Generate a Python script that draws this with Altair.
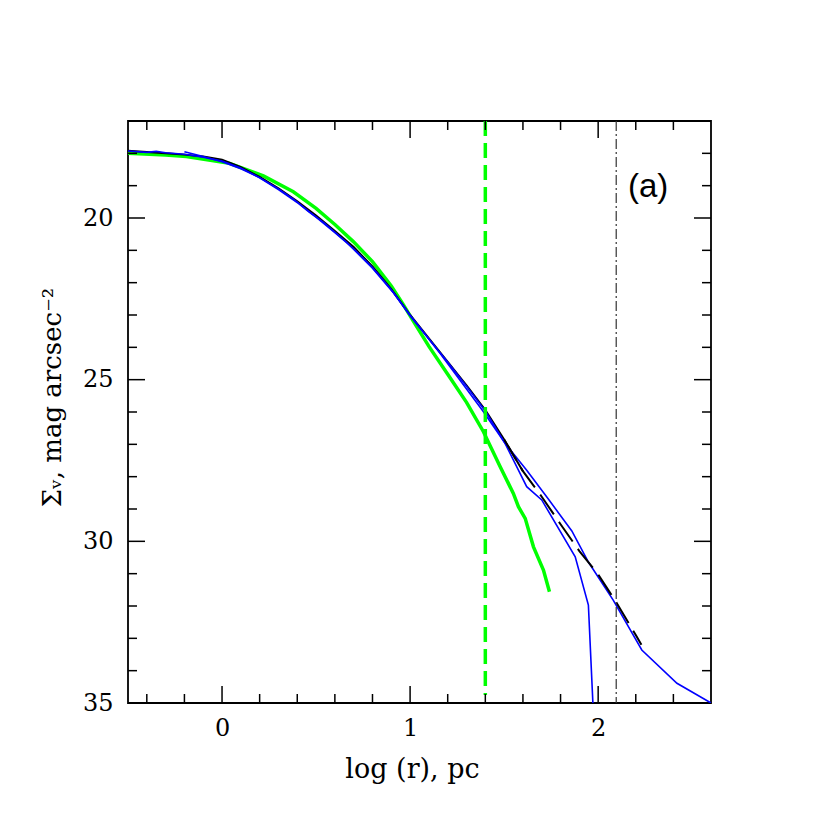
import altair as alt
import pandas as pd

W, H = 583, 582

# ---- data ----
black_x = [-0.5, -0.4, -0.3, -0.2, -0.1, 0.0, 0.1, 0.2, 0.3, 0.4, 0.5, 0.6, 0.7,
           0.8, 0.9, 1.0, 1.1, 1.2, 1.3, 1.4, 1.5, 1.6]
black_y = [17.92, 17.96, 18.0, 18.04, 18.1, 18.2, 18.43, 18.73, 19.08, 19.48, 19.92,
           20.4, 20.9, 21.5, 22.2, 23.0, 23.72, 24.45, 25.18, 25.94, 26.85, 27.83]

model_x = [1.5, 1.6, 1.7, 1.8, 1.9, 2.0, 2.1, 2.2, 2.23]
model_y = [26.85, 27.83, 28.62, 29.47, 30.3, 31.02, 31.92, 32.9, 33.2]

green_x = [-0.5, -0.3, -0.19, 0.04, 0.22, 0.379, 0.5, 0.6, 0.698, 0.8, 0.9, 0.964,
           1.018, 1.1, 1.2, 1.3, 1.39, 1.479, 1.549, 1.576, 1.612, 1.656, 1.709, 1.741]
green_y = [18.0, 18.05, 18.1, 18.31, 18.7, 19.19, 19.7, 20.2, 20.73, 21.35, 22.1,
           22.68, 23.2, 23.97, 24.83, 25.7, 26.61, 27.69, 28.52, 28.93, 29.29, 30.17,
           30.89, 31.56]

blueA_x = [-0.2, -0.1, 0.0, 0.1, 0.2, 0.3, 0.38, 0.46, 0.543, 0.662, 0.8, 0.91, 1.0,
           1.16, 1.39, 1.505, 1.62, 1.736, 1.86, 1.948, 2.08, 2.232, 2.419, 2.6]
blueA_y = [17.95, 18.1, 18.26, 18.48, 18.75, 19.1, 19.42, 19.8, 20.15, 20.75, 21.55,
           22.3, 23.0, 24.19, 25.99, 26.97, 27.8, 28.7, 29.68, 30.64, 31.82,
           33.36, 34.39, 35.0]

blueB_x = [-0.5, -0.4, -0.35, -0.3, -0.2, -0.1, 0.0, 0.1, 0.2, 0.3, 0.4, 0.5, 0.6,
           0.7, 0.8, 0.9, 1.0, 1.1, 1.2, 1.3, 1.4, 1.505, 1.62, 1.70, 1.878, 1.948,
           1.972]
blueB_y = [17.93, 17.97, 17.94, 17.98, 18.03, 18.12, 18.24, 18.45, 18.76, 19.12,
           19.52, 19.97, 20.45, 20.95, 21.53, 22.22, 23.02, 23.74, 24.45, 25.2, 25.97,
           26.97, 28.31, 28.72, 30.48, 31.97, 35.0]

vline_green = {"x": [1.4], "y": [17.0], "y2": [34.75]}
vline_dashdot = {"x": [2.096], "y": [17.0], "y2": [35.0]}

x_major = [0, 1, 2]
x_minor = [-0.4, -0.2, 0.2, 0.4, 0.6, 0.8, 1.2, 1.4, 1.6, 1.8, 2.2, 2.4]
y_major = [20, 25, 30]
y_minor = [18, 19, 21, 22, 23, 24, 26, 27, 28, 29, 31, 32, 33, 34]

x_labels = [0, 1, 2]
y_labels = [20, 25, 30, 35]

panel_label = {"x": [2.266], "y": [19.04], "t": ["(a)"]}

XDOM = [-0.5, 2.6]
YDOM = [17, 35]

xs = alt.Scale(domain=XDOM, nice=False, zero=False)
ys = alt.Scale(domain=YDOM, nice=False, zero=False, reverse=True)

FONT = "DejaVu Serif"

xaxis = alt.Axis(values=x_labels, ticks=False, domain=False, grid=False,
                 labelFont=FONT, labelFontSize=24, labelPadding=13,
                 labelColor="black", labelFlush=False,
                 title="log (r), pc", titleFont=FONT, titleFontSize=27,
                 titleFontWeight="normal", titleColor="black",
                 titleX=284, titleY=66, titleBaseline="middle", titleAlign="center")
yaxis = alt.Axis(values=y_labels, ticks=False, domain=False, grid=False,
                 labelFont=FONT, labelFontSize=24, labelPadding=15,
                 labelColor="black", labelFlush=False,
                 title="Σᵥ, mag arcsec⁻²", titleFont=FONT, titleFontSize=26,
                 titleFontWeight="normal", titleColor="black",
                 titleX=-76, titleY=276, titleBaseline="middle", titleAlign="center",
                 titleAngle=270)

X = alt.X("x:Q", scale=xs, axis=xaxis)
Y = alt.Y("y:Q", scale=ys, axis=yaxis)


def line(xv, yv, **kw):
    df = pd.DataFrame({"x": xv, "y": yv, "i": range(len(xv))})
    return alt.Chart(df).mark_line(clip=True, **kw).encode(x=X, y=Y, order="i:Q")


green = line(green_x, green_y, color="#00ff00", strokeWidth=3.5)
black = line(black_x, black_y, color="black", strokeWidth=2)
model = line(model_x, model_y, color="black", strokeWidth=2, strokeDash=[24, 9])
blueA = line(blueA_x, blueA_y, color="#0000ff", strokeWidth=1.6)
blueB = line(blueB_x, blueB_y, color="#0000ff", strokeWidth=1.6)

gv = alt.Chart(pd.DataFrame(vline_green)).mark_rule(
    color="#00ff00", strokeWidth=3.5, strokeDash=[15, 7]).encode(x=X, y=Y, y2="y2:Q")
dd = alt.Chart(pd.DataFrame(vline_dashdot)).mark_rule(
    color="#333333", strokeWidth=1.2, strokeDash=[10, 3, 2, 3]).encode(x=X, y=Y, y2="y2:Q")

TK = dict(color="black", strokeWidth=1.5)
MAJ, MIN = 17, 9


def xticks(vals, length):
    df = pd.DataFrame({"x": vals})
    bot = alt.Chart(df).mark_rule(**TK).encode(
        x=X, y=alt.value(H), y2=alt.value(H - length))
    top = alt.Chart(df).mark_rule(**TK).encode(
        x=X, y=alt.value(0), y2=alt.value(length))
    return [bot, top]


def yticks(vals, length):
    df = pd.DataFrame({"y": vals})
    left = alt.Chart(df).mark_rule(**TK).encode(
        y=Y, x=alt.value(0), x2=alt.value(length))
    right = alt.Chart(df).mark_rule(**TK).encode(
        y=Y, x=alt.value(W), x2=alt.value(W - length))
    return [left, right]


ticks = xticks(x_major, MAJ) + xticks(x_minor, MIN) + yticks(y_major, MAJ) + yticks(y_minor, MIN)

label = alt.Chart(pd.DataFrame(panel_label)).mark_text(
    font="Liberation Sans", fontSize=33, color="black", align="center",
    baseline="middle").encode(x=X, y=Y, text="t:N")

chart = alt.layer(green, black, blueA, blueB, model, gv, dd, label, *ticks).properties(
    width=W, height=H,
    background="white",
    autosize=alt.AutoSizeParams(type="none"),
    padding={"left": 120, "top": 113, "right": 20, "bottom": 110},
).configure_view(stroke="black", strokeWidth=1.8)

chart.save("out.html", embed_options={"renderer": "svg", "actions": False})
